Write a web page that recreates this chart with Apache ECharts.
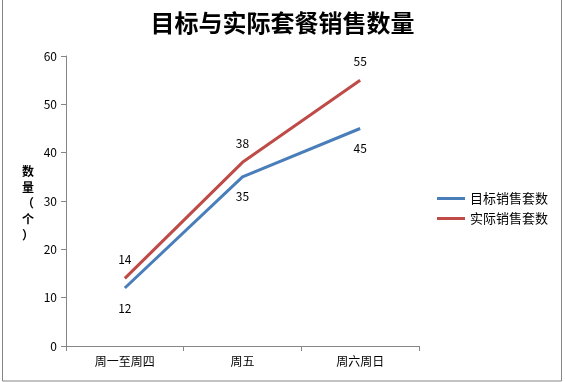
<!DOCTYPE html>
<html>
<head>
<meta charset="utf-8">
<script src="https://cdn.jsdelivr.net/npm/echarts@6/dist/echarts.min.js"></script>
<style>
html,body{margin:0;padding:0;background:#fff;}
#c{width:565px;height:382px;}
</style>
</head>
<body>
<div id="c"></div>
<script>
var categories = ['周一至周四', '周五', '周六周日'];
var targetName = '目标销售套数';
var actualName = '实际销售套数';
var targetValues = [12, 35, 45];
var actualValues = [14, 38, 55];
var yTicks = {min: 0, max: 60, interval: 10};

var chart = echarts.init(document.getElementById('c'), null, {renderer: 'canvas'});
var font = '"Noto Sans CJK SC", "DejaVu Sans", sans-serif';
chart.setOption({
  animation: false,
  backgroundColor: '#fff',
  title: {
    text: '目标与实际套餐销售数量',
    left: 'center',
    top: 6,
    textStyle: {fontSize: 24, fontWeight: 'bold', color: '#000', fontFamily: '"Noto Sans CJK SC", sans-serif'}
  },
  graphic: [{
    type: 'rect',
    shape: {x: 2.5, y: -1, width: 559, height: 382},
    style: {fill: 'none', stroke: '#868686', lineWidth: 1},
    silent: true
  }, {
    type: 'text',
    left: 22,
    top: 163,
    style: {
      text: '数\n量\n（\n个\n）',
      fontSize: 12, fontWeight: 'bold', fill: '#000', fontFamily: font, lineHeight: 16
    }
  }],
  legend: {
    orient: 'vertical',
    left: 432,
    top: 187,
    itemWidth: 28,
    itemHeight: 3,
    itemGap: 7,
    icon: 'rect',
    textStyle: {fontSize: 13, color: '#000', fontFamily: font},
    data: [targetName, actualName]
  },
  grid: {left: 66, right: 146, top: 56, bottom: 36, containLabel: false},
  xAxis: {
    type: 'category',
    data: categories,
    boundaryGap: true,
    axisLine: {lineStyle: {color: '#868686', width: 1}},
    axisTick: {show: true, length: 5, lineStyle: {color: '#868686'}},
    axisLabel: {color: '#000', fontSize: 12, margin: 9, fontFamily: font},
    splitLine: {show: false}
  },
  yAxis: {
    type: 'value',
    min: yTicks.min, max: yTicks.max, interval: yTicks.interval,
    axisLine: {show: true, lineStyle: {color: '#868686', width: 1}},
    axisTick: {show: true, length: 5, lineStyle: {color: '#868686'}},
    axisLabel: {color: '#000', fontSize: 12, margin: 9, fontFamily: font},
    splitLine: {show: false}
  },
  series: [{
    name: targetName,
    type: 'line',
    data: targetValues,
    symbol: 'circle',
    symbolSize: 0,
    showSymbol: true,
    lineStyle: {color: '#4A7EBB', width: 3},
    itemStyle: {color: '#4A7EBB'},
    label: {show: true, position: 'bottom', distance: 14, color: '#000', fontSize: 12, fontFamily: font}
  }, {
    name: actualName,
    type: 'line',
    data: actualValues,
    symbol: 'circle',
    symbolSize: 0,
    showSymbol: true,
    lineStyle: {color: '#BE4B48', width: 3},
    itemStyle: {color: '#BE4B48'},
    label: {show: true, position: 'top', distance: 13, color: '#000', fontSize: 12, fontFamily: font}
  }]
});
</script>
</body>
</html>
